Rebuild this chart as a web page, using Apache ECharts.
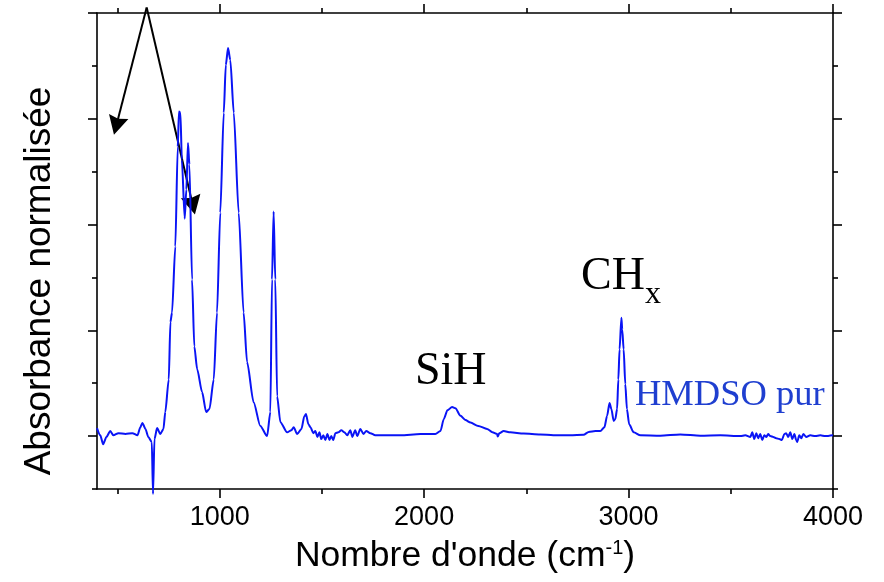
<!DOCTYPE html>
<html>
<head>
<meta charset="utf-8">
<script src="https://cdn.jsdelivr.net/npm/echarts@6/dist/echarts.min.js"></script>
<style>html,body{margin:0;padding:0;background:#fff}#c{width:884px;height:582px}</style>
</head>
<body>
<div id="c"></div>
<script>
// Wavenumber (cm-1) and normalised absorbance
var wavenumbers = [400,416,430,446,465,480,505,539,573,598,612,622,637,651,668,674,681,694,710,725,734,751,759,767,783,795,801,808,815,829,837,845,852,865,876,890,914,934,950,971,987,1003,1020,1030,1041,1052,1069,1093,1117,1134,1166,1199,1232,1248,1256,1264,1272,1281,1297,1330,1351,1362,1379,1400,1414,1422,1434,1444,1458,1468,1478,1488,1497,1507,1517,1527,1537,1546,1556,1566,1581,1595,1610,1624,1639,1649,1663,1673,1688,1703,1717,1737,1761,1786,1884,1982,2055,2080,2096,2114,2137,2153,2178,2202,2227,2265,2308,2334,2357,2360,2368,2389,2422,2487,2568,2632,2715,2780,2805,2838,2862,2882,2895,2907,2916,2927,2935,2944,2950,2956,2965,2969,2976,2984,2992,3003,3025,3058,3155,3253,3351,3449,3547,3571,3596,3605,3615,3625,3634,3644,3654,3664,3674,3683,3693,3708,3722,3737,3750,3762,3771,3781,3791,3801,3811,3820,3825,3835,3845,3855,3869,3889,3913,3938,3962,4000];
var absorbance = [0.019,0.002,-0.019,-0.002,0.012,0.002,0.007,0.005,0.007,0.002,0.021,0.031,0.017,-0.002,-0.014,-0.137,-0.007,0.019,0.005,0.017,0.057,0.134,0.269,0.292,0.448,0.684,0.767,0.764,0.653,0.514,0.583,0.693,0.642,0.370,0.212,0.158,0.104,0.057,0.064,0.134,0.292,0.528,0.764,0.877,0.917,0.889,0.764,0.528,0.292,0.175,0.080,0.024,0.000,0.057,0.370,0.531,0.370,0.094,0.033,0.009,0.014,0.021,0.005,0.017,0.047,0.052,0.028,0.021,0.007,0.012,-0.002,0.009,-0.007,0.002,-0.009,0.005,-0.009,0.000,-0.009,0.007,0.009,0.014,0.009,0.002,0.014,-0.002,0.014,0.000,0.017,0.005,0.012,0.007,0.002,0.002,0.002,0.005,0.005,0.012,0.040,0.061,0.069,0.066,0.048,0.038,0.032,0.024,0.017,0.009,0.005,-0.001,0.007,0.012,0.009,0.006,0.004,0.002,0.002,0.003,0.010,0.012,0.012,0.021,0.048,0.078,0.064,0.036,0.040,0.064,0.134,0.205,0.280,0.252,0.205,0.123,0.064,0.028,0.009,0.002,0.001,0.004,0.001,0.002,0.000,0.002,-0.002,0.009,-0.007,0.007,-0.005,0.005,-0.009,0.002,-0.002,0.005,0.000,-0.002,-0.005,-0.007,-0.009,0.005,0.007,-0.002,0.009,-0.007,0.005,-0.009,-0.014,0.002,-0.005,0.005,-0.002,0.002,0.000,0.002,0.000,0.002];
var xMajorTicks = [1000,2000,3000,4000];
var xMinorTicks = [500,1500,2500,3500];
var yMajorTicks = [0,0.25,0.5,0.75,1];
var yMinorTicks = [-0.125,0.125,0.375,0.625,0.875];
var arrowApex = [643, 1.013];
var arrowTips = [[483, 0.712], [879, 0.524]];

var spectrum = wavenumbers.map(function (w, i) { return [w, absorbance[i]]; });

var X_MIN = 400, X_MAX = 4000, Y_MIN = -0.125, Y_MAX = 1.0;
var lineCol = '#000';
function xAx(pos, ticks, len, showLine, labels) {
  return {
    type: 'value', position: pos, min: X_MIN, max: X_MAX, gridIndex: 0,
    axisLine: { show: showLine, onZero: false, lineStyle: { color: lineCol, width: 1.6 } },
    axisTick: { show: true, customValues: ticks, length: len, lineStyle: { color: lineCol, width: 1.6 } },
    axisLabel: labels ? { show: true, customValues: ticks, margin: 15, color: '#000', fontSize: 27, fontFamily: 'Liberation Sans, Arial, sans-serif', formatter: function (v) { return String(v); } } : { show: false },
    splitLine: { show: false }
  };
}
function yAx(pos, ticks, len, showLine) {
  return {
    type: 'value', position: pos, min: Y_MIN, max: Y_MAX, gridIndex: 0,
    axisLine: { show: showLine, onZero: false, lineStyle: { color: lineCol, width: 1.6 } },
    axisTick: { show: true, customValues: ticks, length: len, lineStyle: { color: lineCol, width: 1.6 } },
    axisLabel: { show: false },
    splitLine: { show: false }
  };
}

var chart = echarts.init(document.getElementById('c'), null, { renderer: 'canvas' });
var xa0 = xAx('bottom', xMajorTicks, 9, true, true);
xa0.name = '{a|Nombre d\'onde (cm}{b|-1}{a|)}';
xa0.nameLocation = 'middle';
xa0.nameGap = 49;
xa0.nameTextStyle = {
  rich: {
    a: { fontSize: 35.5, fontFamily: 'Liberation Sans, Arial, sans-serif', color: '#000', lineHeight: 37 },
    b: { fontSize: 20, fontFamily: 'Liberation Sans, Arial, sans-serif', color: '#000', verticalAlign: 'top', lineHeight: 20 }
  }
};
var textGraphics = [
  { type: 'text', x: 40, y: 281, rotation: Math.PI / 2,
    style: { text: 'Absorbance normalisée', font: '37px "Liberation Sans", Arial, sans-serif', fill: '#000', textAlign: 'center', textVerticalAlign: 'middle' } },
  { type: 'text', x: 415, y: 372,
    style: { text: 'SiH', font: '46px "Liberation Serif", "Times New Roman", serif', fill: '#000', textAlign: 'left', textVerticalAlign: 'middle' } },
  { type: 'text', x: 581, y: 277,
    style: { text: 'CH', font: '46px "Liberation Serif", "Times New Roman", serif', fill: '#000', textAlign: 'left', textVerticalAlign: 'middle' } },
  { type: 'text', x: 645, y: 295,
    style: { text: 'x', font: '32px "Liberation Serif", "Times New Roman", serif', fill: '#000', textAlign: 'left', textVerticalAlign: 'middle' } },
  { type: 'text', x: 635, y: 395,
    style: { text: 'HMDSO pur', font: '36.5px "Liberation Serif", "Times New Roman", serif', fill: '#1f3fd0', textAlign: 'left', textVerticalAlign: 'middle' } }
];
chart.setOption({
  animation: false,
  backgroundColor: '#fff',
  grid: { left: 97, right: 51, top: 13, bottom: 93, containLabel: false },
  xAxis: [
    xa0,
    xAx('bottom', xMinorTicks, 5, false, false),
    xAx('top', xMajorTicks, 9, true, false),
    xAx('top', xMinorTicks, 5, false, false)
  ],
  yAxis: [
    yAx('left', yMajorTicks, 9, true),
    yAx('left', yMinorTicks, 5, false),
    yAx('right', yMajorTicks, 9, true),
    yAx('right', yMinorTicks, 5, false)
  ],
  series: [
    {
      type: 'line', xAxisIndex: 0, yAxisIndex: 0, data: spectrum,
      showSymbol: false, smooth: 0.25, smoothMonotone: 'x', clip: false,
      lineStyle: { color: '#0a14f5', width: 2 }
    }
  ],
  graphic: textGraphics
});

// Arrows: positions converted from data coordinates through the chart's own axes
var apexPx = chart.convertToPixel({ gridIndex: 0 }, arrowApex);
var arrowGraphics = [];
arrowTips.forEach(function (t) {
  var tip = chart.convertToPixel({ gridIndex: 0 }, t);
  var dx = tip[0] - apexPx[0], dy = tip[1] - apexPx[1];
  var L = Math.sqrt(dx * dx + dy * dy);
  var ux = dx / L, uy = dy / L;
  var headLen = 19, headHalf = 10;
  var bx = tip[0] - ux * headLen, by = tip[1] - uy * headLen;
  var nx = -uy, ny = ux;
  arrowGraphics.push({
    type: 'line', silent: true,
    shape: { x1: apexPx[0], y1: apexPx[1], x2: bx + ux * 3, y2: by + uy * 3 },
    style: { stroke: '#000', lineWidth: 2 }
  });
  arrowGraphics.push({
    type: 'polygon', silent: true,
    shape: { points: [[tip[0], tip[1]], [bx + nx * headHalf, by + ny * headHalf], [tip[0] - ux * headLen * 0.88, tip[1] - uy * headLen * 0.88], [bx - nx * headHalf, by - ny * headHalf]] },
    style: { fill: '#000' }
  });
});
chart.setOption({ graphic: textGraphics.concat(arrowGraphics) }, { replaceMerge: ['graphic'] });
</script>
</body>
</html>
